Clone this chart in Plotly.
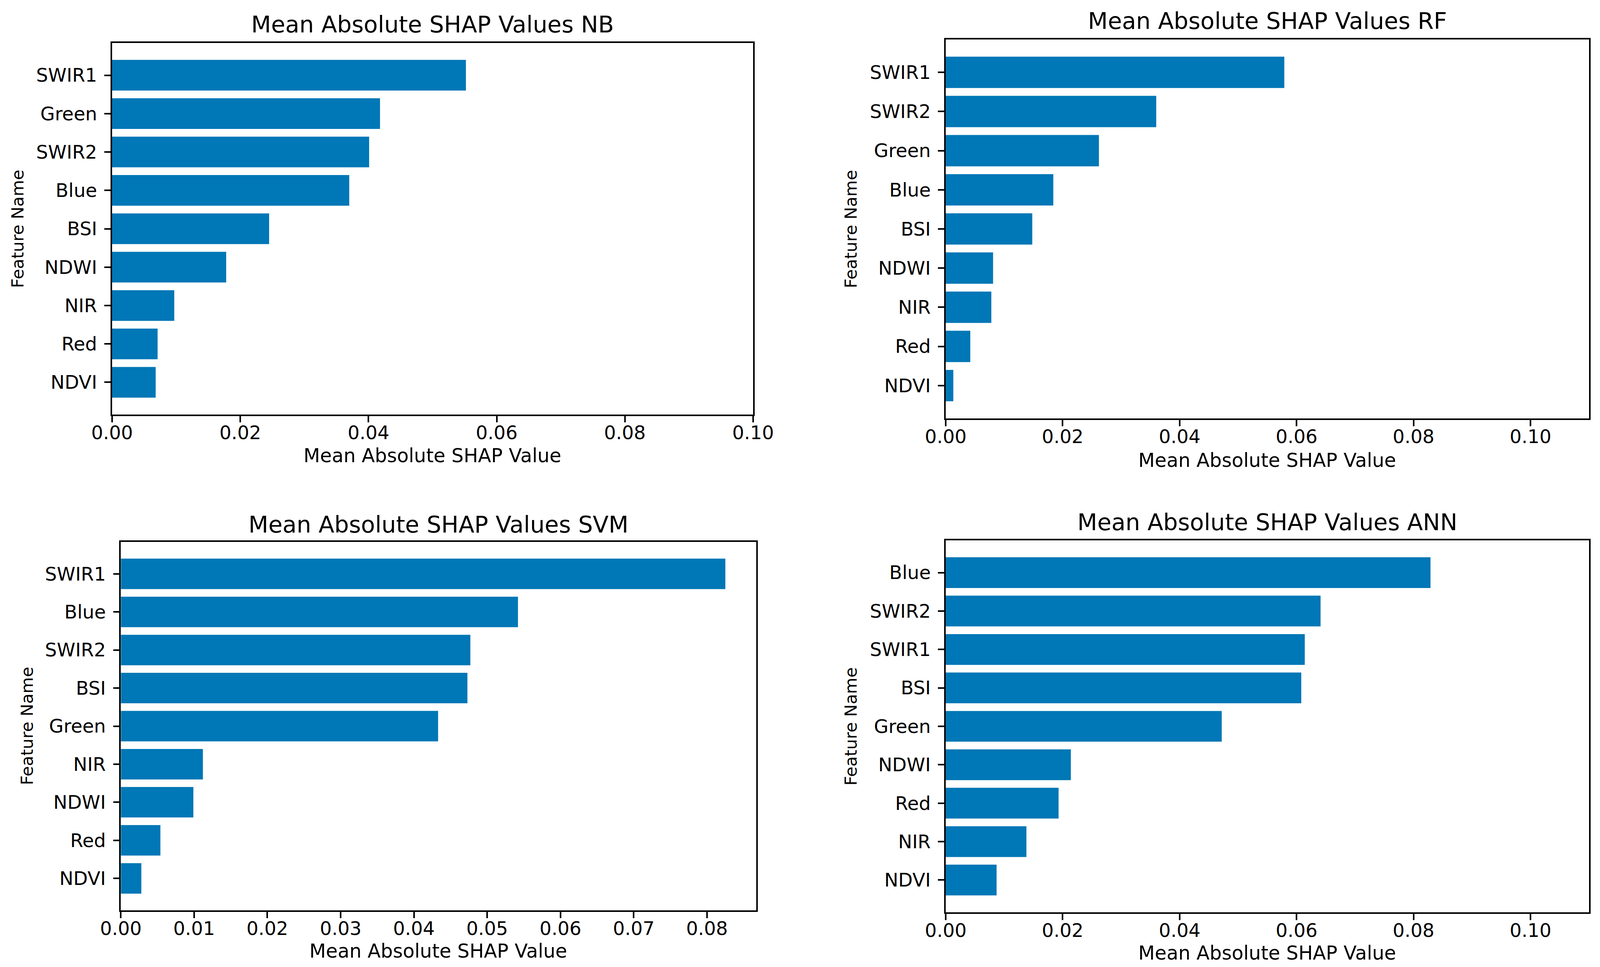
import plotly.graph_objects as go

W, H = 4211, 2475

# ---- data ----
nb_features = ["SWIR1", "Green", "SWIR2", "Blue", "BSI", "NDWI", "NIR", "Red", "NDVI"]
nb_values = [0.0552, 0.0418, 0.0401, 0.0370, 0.0245, 0.0178, 0.0097, 0.0071, 0.0068]

rf_features = ["SWIR1", "SWIR2", "Green", "Blue", "BSI", "NDWI", "NIR", "Red", "NDVI"]
rf_values = [0.0579, 0.0360, 0.0262, 0.0184, 0.0148, 0.0081, 0.0078, 0.0042, 0.0013]

svm_features = ["SWIR1", "Blue", "SWIR2", "BSI", "Green", "NIR", "NDWI", "Red", "NDVI"]
svm_values = [0.0825, 0.0542, 0.0477, 0.0473, 0.0433, 0.0112, 0.0099, 0.0054, 0.0028]

ann_features = ["Blue", "SWIR2", "SWIR1", "BSI", "Green", "NDWI", "Red", "NIR", "NDVI"]
ann_values = [0.0829, 0.0641, 0.0614, 0.0608, 0.0472, 0.0214, 0.0193, 0.0138, 0.0087]

titles = ["Mean Absolute SHAP Values NB", "Mean Absolute SHAP Values RF",
          "Mean Absolute SHAP Values SVM", "Mean Absolute SHAP Values ANN"]
x_label = "Mean Absolute SHAP Value"
y_label = "Feature Name"

BAR = "#0077B6"
FONT = "DejaVu Sans"

# panel geometry in pixels: left, right, top, bottom
panels = [
    dict(feat=nb_features, val=nb_values, box=(295, 1982, 110, 1061), xr=[0, 0.10], dt=0.02,
         title_y=62, xt_y=1167, yt_x=47),
    dict(feat=rf_features, val=rf_values, box=(2489, 4182, 101, 1071), xr=[0, 0.11], dt=0.02,
         title_y=53, xt_y=1178, yt_x=2239),
    dict(feat=svm_features, val=svm_values, box=(318, 1990, 1387, 2330), xr=[0, 0.0867], dt=0.01,
         title_y=1342, xt_y=2434, yt_x=71),
    dict(feat=ann_features, val=ann_values, box=(2489, 4182, 1383, 2335), xr=[0, 0.11], dt=0.02,
         title_y=1336, xt_y=2439, yt_x=2239),
]

fig = go.Figure()
annotations = []
layout_axes = {}

for i, p in enumerate(panels):
    n = i + 1
    xa = "x" if n == 1 else f"x{n}"
    ya = "y" if n == 1 else f"y{n}"
    l, r, t, b = p["box"]
    fig.add_trace(go.Bar(
        x=p["val"], y=p["feat"], orientation="h",
        marker=dict(color=BAR, line=dict(width=0)),
        xaxis=xa, yaxis=ya, showlegend=False,
    ))
    ydom = [1 - b / H, 1 - t / H]
    xdom = [l / W, r / W]
    axis_common = dict(showline=True, linecolor="black", linewidth=3.5, mirror=True,
                       ticks="outside", ticklen=16, tickwidth=3.5, tickcolor="black",
                       showgrid=False, zeroline=False, automargin=False,
                       tickfont=dict(family=FONT, size=48, color="black"))
    layout_axes["xaxis" if n == 1 else f"xaxis{n}"] = dict(
        domain=xdom, anchor=ya, range=p["xr"], dtick=p["dt"], tick0=0,
        tickformat=".2f", **axis_common)
    layout_axes["yaxis" if n == 1 else f"yaxis{n}"] = dict(
        domain=ydom, anchor=xa, type="category", categoryorder="array",
        categoryarray=p["feat"], range=[8.84, -0.84], ticklabelstandoff=9,
        **axis_common)
    cx = (l + r) / 2 / W
    annotations.append(dict(text=titles[i], x=cx, y=1 - p["title_y"] / H, xref="paper", yref="paper",
                            xanchor="center", yanchor="middle", showarrow=False,
                            font=dict(family=FONT, size=59, color="black")))
    annotations.append(dict(text=x_label, x=cx, y=1 - p["xt_y"] / H, xref="paper", yref="paper",
                            xanchor="center", yanchor="middle", showarrow=False,
                            font=dict(family=FONT, size=49, color="black")))
    annotations.append(dict(text=y_label, x=p["yt_x"] / W, y=1 - (t + b) / 2 / H, xref="paper", yref="paper",
                            xanchor="center", yanchor="middle", showarrow=False, textangle=-90,
                            font=dict(family=FONT, size=43, color="black")))

fig.update_layout(
    template="none",
    width=W, height=H, autosize=False,
    margin=dict(l=0, r=0, t=0, b=0, autoexpand=False),
    paper_bgcolor="white", plot_bgcolor="white",
    bargap=0.2,
    annotations=annotations,
    **layout_axes,
)

# pull x tick labels closer to the axis (matplotlib-like spacing)
for k in ["xaxis", "xaxis2", "xaxis3", "xaxis4"]:
    try:
        fig.layout[k].ticklabelstandoff = -14
    except Exception:
        pass

post = (
    "document.body.style.margin='0';"
    "document.documentElement.style.overflow='hidden';"
    "document.body.style.overflow='hidden';"
    "var gd=document.getElementById('{plot_id}');"
    "Plotly.relayout(gd,{width:window.innerWidth,height:window.innerHeight});"
)

fig.write_html("out.html", post_script=post, config={"displayModeBar": False})
